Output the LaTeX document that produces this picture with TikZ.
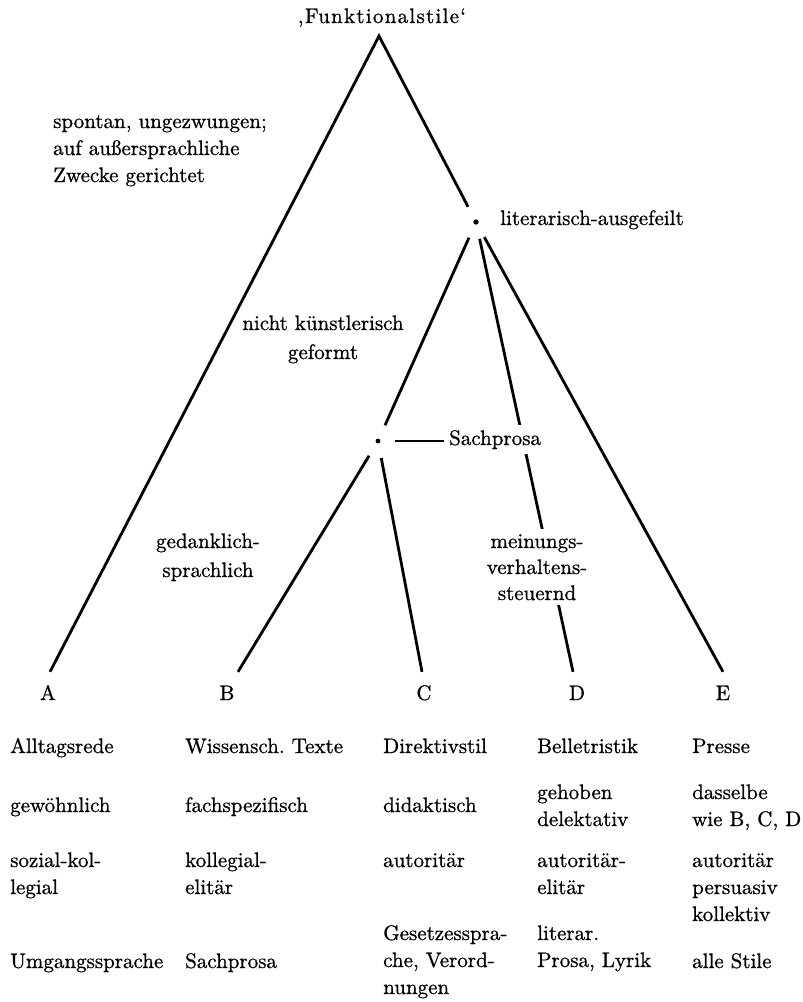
\documentclass[tikz,border=0pt]{standalone}
\usepackage{fontspec}
\setmainfont{lmroman10-regular.otf}[FakeBold=0.8]
\frenchspacing
\begin{document}
\begin{tikzpicture}[x=1pt,y=-1pt,
  every node/.style={font=\fontsize{21}{27}\selectfont},
  edge/.style={line width=2.8pt},
  junction/.style={circle,minimum size=34pt,inner sep=0pt},
  leaf/.style={anchor=base,inner xsep=0pt,inner ysep=13pt,text height=15pt,text depth=0pt},
  lbl/.style={anchor=base west,align=left,inner sep=0pt},
  clbl/.style={anchor=base,align=center,inner sep=0pt},
  cell/.style={anchor=base west,align=left,inner sep=0pt},
  mask/.style={fill=white,inner sep=5pt}]
\useasboundingbox (0,0) rectangle (803,1002);
% title and junctions
\node[clbl] (title) at (382,23) {\addfontfeatures{LetterSpace=6}‚Funktionalstile‘};
\coordinate (apex) at (379,36);
\node[junction] (lit) at (476,222) {};
\node[junction] (sach) at (378,441) {};
\fill (lit) circle (2.7);
\fill (sach) circle (2.4);
% leaves
\node[leaf] (A) at (48,700) {A};
\node[leaf] (B) at (227,700) {B};
\node[leaf] (C) at (424,700) {C};
\node[leaf] (D) at (577,700) {D};
\node[leaf] (E) at (723,700) {E};
% edges
\draw[edge,line join=miter] ([xshift=2pt]A.north) -- (apex) -- (lit);
\draw[edge] (lit) -- (sach);
\draw[edge] (lit) -- ([xshift=-4pt]D.north);
\draw[edge] (lit) -- (E.north);
\draw[edge] (sach) -- ([xshift=11pt]B.north);
\draw[edge] (sach) -- ([xshift=-2pt]C.north);
% branch labels (base anchor = baseline of last line)
\node[lbl] (spont) at (53,182) {spontan, ungezwungen;\\auf außersprachliche\\Zwecke gerichtet};
\node[lbl] (litlbl) at (500,225) {literarisch-ausgefeilt};
\node[clbl] (nk) at (323,359) {nicht künstlerisch\\[2pt]geformt};
\node[lbl,mask] (sachlbl) at (444,445) {Sachprosa};
\draw[edge] (sach) -- (sach -| sachlbl.west);
\node[clbl] (ged) at (208,577) {gedanklich-\\[2pt]sprachlich};
\node[clbl,mask] (mein) at (537,600) {meinungs-\\[-1pt]verhaltens-\\[-1pt]steuernd};
% table
\node[cell] (a1) at (10,753) {Alltagsrede};
\node[cell] (b1) at (185,753) {Wissensch. Texte};
\node[cell] (c1) at (383,753) {Direktivstil};
\node[cell] (d1) at (537,753) {Belletristik};
\node[cell] (e1) at (692,753) {Presse};
\node[cell] (a2) at (10,812) {gewöhnlich};
\node[cell] (b2) at (185,812) {fachspezifisch};
\node[cell] (c2) at (383,812) {didaktisch};
\node[cell] (d2) at (537,826) {gehoben\\delektativ};
\node[cell] (e2) at (692,826) {dasselbe\\wie B, C, D};
\node[cell] (a3) at (10,894) {sozial-kol-\\legial};
\node[cell] (b3) at (185,894) {kollegial-\\elitär};
\node[cell] (c3) at (383,867) {autoritär};
\node[cell] (d3) at (537,894) {autoritär-\\elitär};
\node[cell] (e3) at (692,921) {autoritär\\persuasiv\\kollektiv};
\node[cell] (a4) at (10,968) {Umgangssprache};
\node[cell] (b4) at (185,968) {Sachprosa};
\node[cell] (c4) at (383,994) {Gesetzesspra-\\che, Verord-\\nungen};
\node[cell] (d4) at (537,967) {literar.\\Prosa, Lyrik};
\node[cell] (e4) at (692,968) {alle Stile};
\end{tikzpicture}
\end{document}
